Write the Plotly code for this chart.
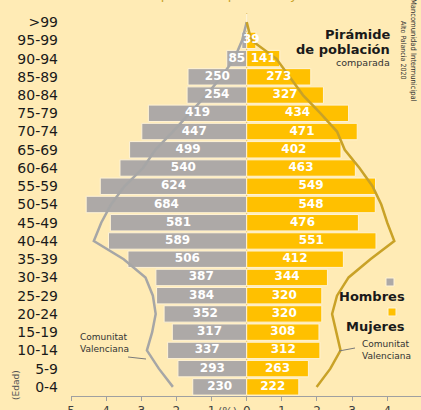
import plotly.graph_objects as go

# grupos de edad, de abajo arriba
ages = ["0-4", "5-9", "10-14", "15-19", "20-24", "25-29", "30-34", "35-39",
        "40-44", "45-49", "50-54", "55-59", "60-64", "65-69", "70-74",
        "75-79", "80-84", "85-89", "90-94", "95-99", ">99"]

# poblacion Alto Palancia (personas)
men = [230, 293, 337, 317, 352, 384, 387, 506, 589, 581, 684, 624, 540,
       499, 447, 419, 254, 250, 85, 21, 0]
women = [222, 263, 312, 308, 320, 320, 344, 412, 551, 476, 548, 549, 463,
         402, 471, 434, 327, 273, 141, 39, 0]

# Comunitat Valenciana (%)
cv_men = [2.1, 2.5, 2.84, 2.69, 2.59, 2.67, 2.88, 3.5, 4.35, 4.14, 3.86,
          3.48, 2.95, 2.6, 2.1, 1.62, 1.15, 0.72, 0.35, 0.13, 0.0]
cv_women = [1.99, 2.38, 2.67, 2.55, 2.43, 2.57, 2.9, 3.52, 4.2, 4.0, 3.83,
            3.58, 3.21, 2.79, 2.57, 2.1, 1.6, 1.22, 0.84, 0.13, 0.0]

x_ticks = [-5, -4, -3, -2, -1, 0, 1, 2, 3, 4]
x_tick_labels = ["5", "4", "3", "2", "1", "0", "1", "2", "3", "4"]

BG = "#FFEBB5"
GREY = "#ADA9A7"
GOLD = "#FFC000"
GREY_LINE = "#A6A6A6"
GOLD_LINE = "#C9A227"
FONT = "DejaVu Sans"
NARROW = "DejaVu Sans Condensed, Liberation Sans Narrow, sans-serif"

total = sum(men) + sum(women)
men_pct = [-v / total * 100 for v in men]
women_pct = [v / total * 100 for v in women]
men_txt = [str(v) if v >= 30 else "" for v in men]
women_txt = [str(v) if v >= 30 else "" for v in women]

fig = go.Figure()

for vals, color in [(men_pct, GREY), (women_pct, GOLD)]:
    fig.add_trace(
        go.Bar(
            x=vals,
            y=ages,
            orientation="h",
            marker=dict(color=color, line=dict(color="#FFF3D6", width=1)),
            showlegend=False,
        )
    )

fig.add_trace(
    go.Scatter(x=[-v for v in cv_men], y=ages, mode="lines",
               line=dict(color=GREY_LINE, width=2.5), showlegend=False)
)
fig.add_trace(
    go.Scatter(x=cv_women, y=ages, mode="lines",
               line=dict(color=GOLD_LINE, width=2.5), showlegend=False)
)

# value labels on top of everything, centred on each bar
for vals, txt in [(men_pct, men_txt), (women_pct, women_txt)]:
    fig.add_trace(
        go.Scatter(
            x=[v / 2 for v in vals],
            y=ages,
            mode="text",
            text=txt,
            textposition="middle center",
            textfont=dict(family=FONT, size=12, color="white", weight="bold"),
            showlegend=False,
            cliponaxis=False,
        )
    )

annotations = [
    dict(x=392, y=34, text="<b>Pirámide</b>", xanchor="right", size=13, color="#1a1a1a"),
    dict(x=392, y=49, text="<b>de población</b>", xanchor="right", size=13, color="#1a1a1a"),
    dict(x=392, y=63, text="comparada", xanchor="right", size=9.5, color="#333333"),
    dict(x=372, y=296, text="<b>Hombres</b>", xanchor="center", size=13, color="#1a1a1a"),
    dict(x=375, y=326, text="<b>Mujeres</b>", xanchor="center", size=13, color="#1a1a1a"),
    dict(x=78, y=343, text="Comunitat<br>Valenciana", xanchor="left", size=9, color="#333333"),
    dict(x=360, y=350, text="Comunitat<br>Valenciana", xanchor="left", size=9, color="#333333"),
]

shapes = [
    # legend squares
    dict(type="rect", xref="paper", yref="paper", fillcolor=GREY, line=dict(color="#FFF3D6", width=1),
         x0=(386 - 71) / 350, x1=(394 - 71) / 350, y0=(396 - 286) / 383, y1=(396 - 278) / 383),
    dict(type="rect", xref="paper", yref="paper", fillcolor=GOLD, line=dict(color="#FFF3D6", width=1),
         x0=(388 - 71) / 350, x1=(396 - 71) / 350, y0=(396 - 316) / 383, y1=(396 - 308) / 383),
    # pointer lines
    dict(type="line", xref="paper", yref="paper", line=dict(color="#7a7a7a", width=1),
         x0=(128 - 71) / 350, x1=(146 - 71) / 350, y0=(396 - 357) / 383, y1=(396 - 359) / 383),
    dict(type="line", xref="paper", yref="paper", line=dict(color="#7a7a7a", width=1),
         x0=(339 - 71) / 350, x1=(355 - 71) / 350, y0=(396 - 351) / 383, y1=(396 - 348) / 383),
]

layout_annotations = []
for a in annotations:
    layout_annotations.append(
        dict(
            xref="paper", yref="paper",
            x=(a["x"] - 71) / 350, y=(396 - a["y"]) / 383,
            text=a["text"], xanchor=a["xanchor"], yanchor="middle", align="left",
            showarrow=False, font=dict(family=FONT, size=a["size"], color=a["color"]),
        )
    )

layout_annotations += [
    # title cut at the top edge
    dict(xref="paper", yref="paper", x=(205 - 71) / 350, y=1, yanchor="bottom", yshift=9,
         text="Estructura de la población por edad y sexo (%)", showarrow=False,
         font=dict(family=FONT, size=13, color="#C9A227")),
    dict(xref="paper", yref="paper", x=(414 - 71) / 350, y=(396 - 50) / 383,
         xanchor="center", yanchor="middle",
         text="Mancomunidad Intermunicipal", textangle=90, showarrow=False,
         font=dict(family=NARROW, size=7.5, color="#333333")),
    dict(xref="paper", yref="paper", x=(403 - 71) / 350, y=(396 - 50) / 383,
         xanchor="center", yanchor="middle",
         text="Alto Palancia 2020", textangle=90, showarrow=False,
         font=dict(family=NARROW, size=7, color="#333333")),
    dict(xref="paper", yref="paper", x=(16 - 71) / 350, y=(396 - 385) / 383,
         xanchor="center", yanchor="middle",
         text="(Edad)", textangle=-90, showarrow=False,
         font=dict(family=FONT, size=9, color="#555555")),
    dict(xref="paper", yref="paper", x=(227 - 71) / 350, y=0, yanchor="top", yshift=-7,
         text="(%)", showarrow=False,
         font=dict(family=FONT, size=11, color="#555555")),
]

fig.update_layout(
    width=421,
    height=410,
    margin=dict(l=71, r=0, t=13, b=14),
    paper_bgcolor=BG,
    plot_bgcolor=BG,
    barmode="overlay",
    bargap=0.1,
    showlegend=False,
    annotations=layout_annotations,
    shapes=shapes,
    xaxis=dict(
        range=[-5, 4.96],
        tickvals=x_ticks,
        ticktext=x_tick_labels,
        ticks="outside",
        ticklen=4,
        tickcolor="#A0A0A0",
        showline=True,
        linecolor="#A0A0A0",
        linewidth=1,
        showgrid=False,
        zeroline=False,
        automargin=False,
        tickfont=dict(family=FONT, size=12, color="#404040"),
    ),
    yaxis=dict(
        categoryorder="array",
        categoryarray=ages,
        range=[-0.5, 20.5],
        showgrid=False,
        zeroline=False,
        ticks="",
        ticklabelstandoff=12,
        automargin=False,
        tickfont=dict(family=FONT, size=14, color="#1a1a1a"),
    ),
)

# thin central axis visible above the top bar
fig.add_vline(x=0, line=dict(color="#D9B24A", width=1), layer="below")

fig.write_html(
    "out.html",
    config={"displayModeBar": False},
    post_script="document.body.style.margin='0';document.body.style.overflow='hidden';",
)
